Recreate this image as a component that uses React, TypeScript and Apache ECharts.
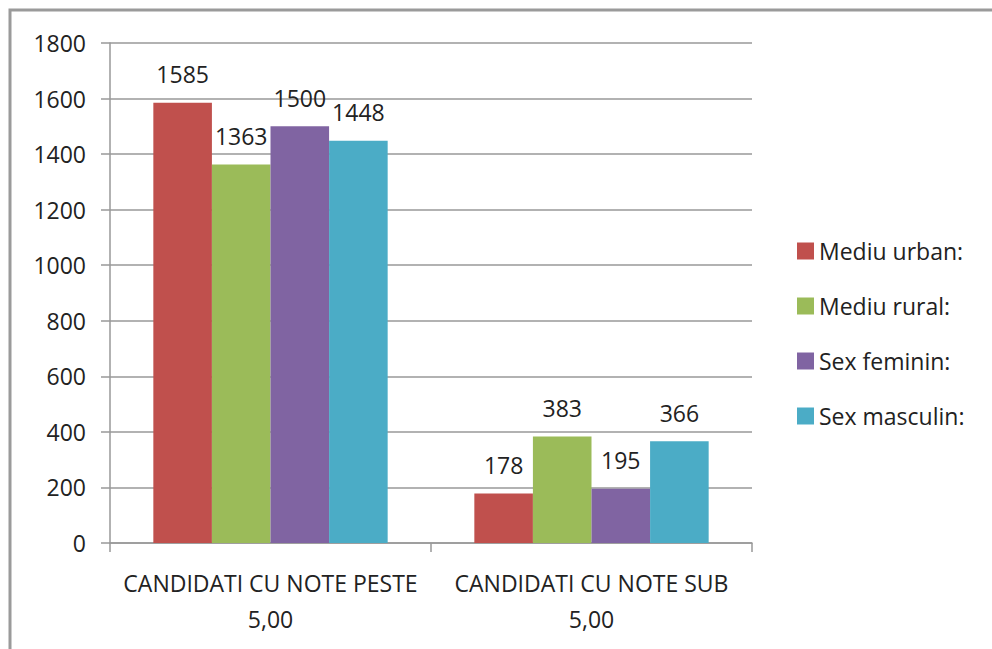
import React, { useEffect, useRef } from "react";
import * as echarts from "echarts";

const categories = ["CANDIDATI CU NOTE PESTE\n5,00", "CANDIDATI CU NOTE SUB\n5,00"];
const seriesNames = ["Mediu urban:", "Mediu rural:", "Sex feminin:", "Sex masculin:"];
const mediuUrban = [1585, 178];
const mediuRural = [1363, 383];
const sexFeminin = [1500, 195];
const sexMasculin = [1448, 366];
const colors = ["#C0504D", "#9BBB59", "#8064A2", "#4BACC6"];

const FONT = "'Open Sans', 'Liberation Sans', sans-serif";
const FS = 23;

export default function App() {
  const ref = useRef<HTMLDivElement>(null);
  useEffect(() => {
    if (!ref.current) return;
    const chart = echarts.init(ref.current, undefined, { renderer: "svg" });
    const values = [mediuUrban, mediuRural, sexFeminin, sexMasculin];
    chart.setOption({
      animation: false,
      backgroundColor: "#ffffff",
      textStyle: { fontFamily: FONT },
      graphic: [
        {
          type: "rect",
          shape: { x: 10, y: 10, width: 990, height: 660 },
          style: { fill: "none", stroke: "#9a9a9a", lineWidth: 3 },
          silent: true,
        },
      ],
      grid: { left: 110, right: 240, top: 43, bottom: 106, containLabel: false },
      legend: {
        orient: "vertical",
        left: 792,
        top: 234,
        itemWidth: 17,
        itemHeight: 17,
        itemGap: 31,
        icon: "rect",
        data: seriesNames,
        textStyle: {
          fontSize: FS,
          lineHeight: 24,
          color: "#222",
          fontFamily: FONT,
          padding: [0, 0, 0, 0],
        },
      },
      xAxis: {
        type: "category",
        data: categories,
        axisLine: { lineStyle: { color: "#999", width: 1.5 } },
        axisTick: { show: true, length: 9, lineStyle: { color: "#999", width: 1.5 } },
        axisLabel: {
          interval: 0,
          hideOverlap: false,
          fontSize: FS,
          color: "#222",
          fontFamily: FONT,
          lineHeight: 36,
          margin: 22,
        },
        splitLine: { show: false },
      },
      yAxis: {
        type: "value",
        min: 0,
        max: 1800,
        interval: 200,
        axisLine: { show: true, lineStyle: { color: "#999", width: 1.5 } },
        axisTick: { show: true, length: 9, lineStyle: { color: "#999", width: 1.5 } },
        axisLabel: {
          fontSize: FS,
          color: "#222",
          fontFamily: FONT,
          margin: 24,
          formatter: (v: number) => String(v),
        },
        splitLine: { lineStyle: { color: "#999", width: 1.5 } },
      },
      series: seriesNames.map((name, i) => ({
        name,
        type: "bar",
        data: values[i],
        barGap: "0%",
        barCategoryGap: "27%",
        itemStyle: { color: colors[i] },
        label: {
          show: true,
          position: "top",
          distance: 17,
          fontSize: FS,
          color: "#222",
          fontFamily: FONT,
        },
      })),
    });
    return () => chart.dispose();
  }, []);
  return (
    <div
      ref={ref}
      style={{ position: "fixed", left: 0, top: 0, width: 992, height: 649 }}
    />
  );
}
